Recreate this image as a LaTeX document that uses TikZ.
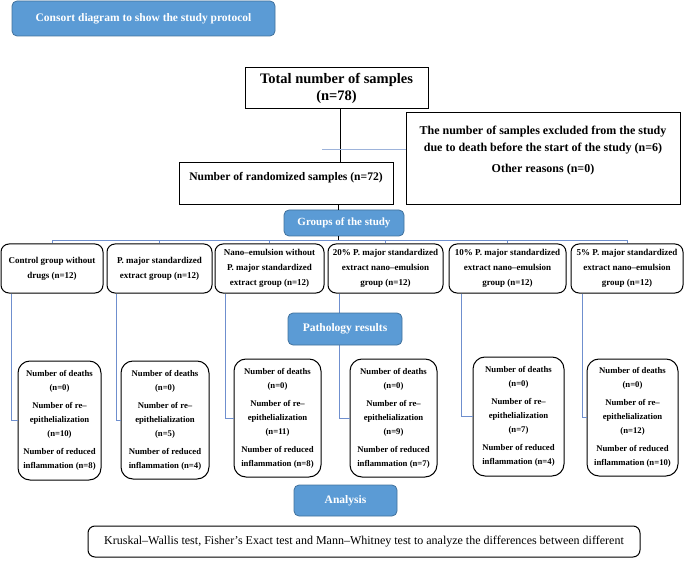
\documentclass[tikz,border=0pt]{standalone}
\usepackage{fontspec}
\setmainfont{Liberation Serif}
\definecolor{bfill}{HTML}{5B9BD5}
\definecolor{bdraw}{HTML}{41719C}
\definecolor{connc}{HTML}{6F8FCE}
\definecolor{thinc}{HTML}{9DB3DA}
\begin{document}
\begin{tikzpicture}[x=1pt,y=-1pt,
  bluebox/.style={draw=bdraw, fill=bfill, rounded corners=5pt, line width=0.8pt, text=white, inner sep=0pt, align=center},
  plainbox/.style={draw=black, line width=1pt, inner sep=0pt, align=center, fill=white},
  grpbox/.style={plainbox, rounded corners=8pt, font=\bfseries\fontsize{9}{15}\selectfont},
  resbox/.style={plainbox, rounded corners=12pt, font=\bfseries\fontsize{8.7}{14}\selectfont},
  bline/.style={draw=connc, line width=1pt},
  kline/.style={draw=black, line width=1pt},
  tline/.style={draw=thinc, line width=0.9pt}]
\useasboundingbox (0,0) rectangle (685,561);

% title
\node[bluebox, minimum width=263pt, minimum height=35pt, font=\bfseries\fontsize{11.5}{13}\selectfont] (title) at (143.5,18.5) {Consort diagram to show the study protocol};

% top boxes
\node[plainbox, minimum width=183pt, minimum height=41pt, font=\bfseries\fontsize{14.5}{17}\selectfont] (total) at (336.5,88.5) {Total number of samples\\(n=78)};
\node[plainbox, minimum width=214pt, minimum height=42pt] (rand) at (286,184) {};
\node[font=\bfseries\fontsize{11.6}{13}\selectfont, inner sep=0pt] (randtext) at (286,178) {Number of randomized samples (n=72)};
\node[plainbox, minimum width=274pt, minimum height=92pt] (excl) at (543,159) {};
\node[font=\bfseries\fontsize{12}{17}\selectfont, align=center, inner sep=0pt] (excltext) at (543,151) {The number of samples excluded from the study\\due to death before the start of the study (n=6)\\[4pt]Other reasons (n=0)};

\draw[kline] ([xshift=3.5pt]total.south) -- ([xshift=3.5pt]total.south |- rand.north);
\coordinate (exs) at (322,149);
\draw[tline] (exs) -- (exs -| excl.west);

% groups of the study
\node[bluebox, minimum width=120pt, minimum height=26pt, font=\bfseries\fontsize{11}{13}\selectfont] (grp) at (344,223) {Groups of the study};
\draw[kline] ([xshift=-6pt]grp.north) -- ([xshift=-6pt]grp.north |- rand.south);

% group boxes
\node[grpbox, minimum width=102pt, minimum height=49pt] (g1) at (52,268.5) {Control group without\\drugs (n=12)};
\node[grpbox, minimum width=105pt, minimum height=49pt] (g2) at (159.5,268.5) {P. major standardized\\extract group (n=12)};
\node[grpbox, minimum width=109pt, minimum height=49pt] (g3) at (269.5,268.5) {Nano–emulsion without\\P. major standardized\\extract group (n=12)};
\node[grpbox, minimum width=115pt, minimum height=49pt] (g4) at (385.5,268.5) {20\% P. major standardized\\extract nano–emulsion\\group (n=12)};
\node[grpbox, minimum width=117pt, minimum height=49pt] (g5) at (507.5,268.5) {10\% P. major standardized\\extract nano–emulsion\\group (n=12)};
\node[grpbox, minimum width=112pt, minimum height=49pt] (g6) at (627,268.5) {5\% P. major standardized\\extract nano–emulsion\\group (n=12)};

\coordinate (bus) at (0,241);
\draw[kline] ([xshift=-6pt]grp.south) -- ([xshift=-6pt]grp.south |- bus);
\draw[bline] (g1.north) -- (g1.north |- bus) -- (g6.north |- bus) -- (g6.north);
\foreach \g in {g2,g3,g4,g5} {\draw[bline] (\g.north) -- (\g.north |- bus);}

% result boxes
\node[resbox, minimum width=83pt, minimum height=119pt] (r1) at (59.5,420.5) {Number of deaths\\(n=0)\\[4pt]Number of re–\\epithelialization\\(n=10)\\[4pt]Number of reduced\\inflammation (n=8)};
\node[resbox, minimum width=88pt, minimum height=118pt] (r2) at (165,420) {Number of deaths\\(n=0)\\[4pt]Number of re–\\epithelialization\\(n=5)\\[4pt]Number of reduced\\inflammation (n=4)};
\node[resbox, minimum width=87pt, minimum height=118pt] (r3) at (277.5,418) {Number of deaths\\(n=0)\\[4pt]Number of re–\\epithelialization\\(n=11)\\[4pt]Number of reduced\\inflammation (n=8)};
\node[resbox, minimum width=87pt, minimum height=118pt] (r4) at (393.5,418) {Number of deaths\\(n=0)\\[4pt]Number of re–\\epithelialization\\(n=9)\\[4pt]Number of reduced\\inflammation (n=7)};
\node[resbox, minimum width=91pt, minimum height=119pt] (r5) at (518.5,416.5) {Number of deaths\\(n=0)\\[4pt]Number of re–\\epithelialization\\(n=7)\\[4pt]Number of reduced\\inflammation (n=4)};
\node[resbox, minimum width=91pt, minimum height=117pt] (r6) at (632.5,417.5) {Number of deaths\\(n=0)\\[4pt]Number of re–\\epithelialization\\(n=12)\\[4pt]Number of reduced\\inflammation (n=10)};

\draw[bline] ([xshift=11pt]g1.south west) |- (r1.west);
\draw[bline] ([xshift=10pt]g2.south west) |- (r2.west);
\draw[bline] ([xshift=11pt]g3.south west) |- (r3.west);
\draw[bline] ([xshift=12pt]g4.south west) |- (r4.west);
\draw[bline] ([xshift=13pt]g5.south west) |- (r5.west);
\draw[bline] ([xshift=12pt]g6.south west) |- (r6.west);

% pathology results
\node[bluebox, minimum width=114pt, minimum height=32pt, font=\bfseries\fontsize{11.5}{13}\selectfont] (path) at (345,329) {Pathology results};

% analysis
\node[bluebox, minimum width=103pt, minimum height=31pt, font=\bfseries\fontsize{11.5}{12}\selectfont] (anal) at (345.5,500.5) {Analysis};
\node[plainbox, rounded corners=7pt, minimum width=552pt, minimum height=31pt, font=\fontsize{12}{14}\selectfont] (final) at (364,541.5) {Kruskal–Wallis test, Fisher's Exact test and Mann–Whitney test to analyze the differences between different};
\end{tikzpicture}
\end{document}
